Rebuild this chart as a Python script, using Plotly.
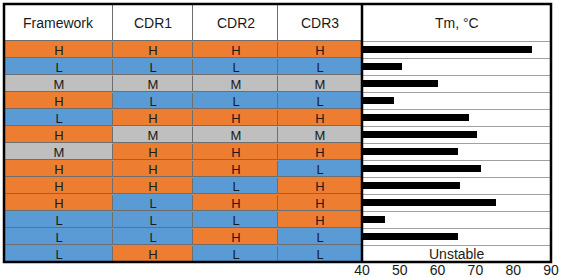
import plotly.graph_objects as go

# ---------------- data ----------------
columns = ["Framework", "CDR1", "CDR2", "CDR3"]
framework = ["H", "L", "M", "H", "L", "H", "M", "H", "H", "H", "L", "L", "L"]
cdr1      = ["H", "L", "M", "L", "H", "M", "H", "H", "H", "L", "L", "L", "H"]
cdr2      = ["H", "L", "M", "L", "H", "M", "H", "H", "L", "H", "L", "H", "L"]
cdr3      = ["H", "L", "M", "L", "H", "M", "H", "L", "H", "H", "H", "L", "L"]
tm_values = [85, 50.5, 60, 48.5, 68.3, 70.5, 65.5, 71.5, 66, 75.4, 46.2, 65.5, None]
tm_header = "Tm, °C"
unstable_label = "Unstable"
x_ticks = [40, 50, 60, 70, 80, 90]

# ---------------- layout constants ----------------
W, H = 562, 278
ML, MR, MT, MB = 4, 11, 4, 16
col_edges = [0, 109, 189, 274, 358]          # table column boundaries (px units)
table_frac = 358 / (W - ML - MR)
header_h = 37 / 17                            # header height in row units
n_rows = len(framework)

level = {"L": 0, "M": 1, "H": 2}
HEADER = 3
rows = list(zip(framework, cdr1, cdr2, cdr3))
z = [[HEADER] * 4] + [[level[v] for v in r] for r in rows]
text = [[""] * 4] + [list(r) for r in rows]
y_edges = [-0.5 - header_h] + [i - 0.5 for i in range(n_rows + 1)]

BLUE, GRAY, ORANGE = "#5B9BD5", "#BFBFBF", "#ED7D31"
cscale = [[0, BLUE], [0.25, BLUE], [0.25, GRAY], [0.5, GRAY],
          [0.5, ORANGE], [0.75, ORANGE], [0.75, "white"], [1, "white"]]

FONT = "Arial, Liberation Sans, sans-serif"

fig = go.Figure()
fig.add_trace(go.Heatmap(
    z=z, x=col_edges, y=y_edges, text=text, texttemplate="%{text}",
    textfont=dict(size=13, color="#1a1a1a", family=FONT),
    colorscale=cscale, zmin=0, zmax=3, showscale=False,
    xgap=1, ygap=1, hoverinfo="skip", xaxis="x", yaxis="y"))

bar_rows = [i for i, v in enumerate(tm_values) if v is not None]
fig.add_trace(go.Bar(
    x=[tm_values[i] for i in bar_rows], y=bar_rows, orientation="h",
    marker=dict(color="black", line=dict(width=0)), width=0.45,
    xaxis="x2", yaxis="y", hoverinfo="skip"))

annotations = []
hy = -0.5 - header_h / 2
for i, c in enumerate(columns):
    annotations.append(dict(x=(col_edges[i] + col_edges[i + 1]) / 2, y=hy,
                            xref="x", yref="y", text=c, showarrow=False,
                            font=dict(size=14, color="#1a1a1a", family=FONT)))
annotations.append(dict(x=65, y=hy, xref="x2", yref="y", text=tm_header,
                        showarrow=False, font=dict(size=14, color="#1a1a1a", family=FONT)))
for i, v in enumerate(tm_values):
    if v is None:
        annotations.append(dict(x=65, y=i, xref="x2", yref="y", text=unstable_label,
                                showarrow=False,
                                font=dict(size=14, color="#1a1a1a", family=FONT)))

shapes = [
    # dark background behind table cells -> cell borders
    dict(type="rect", xref="x", yref="y", x0=col_edges[0], x1=col_edges[-1],
         y0=y_edges[0], y1=y_edges[-1], fillcolor="#6e6e6e", line=dict(width=0),
         layer="below"),
    dict(type="rect", xref="paper", yref="paper", x0=0, x1=1, y0=0, y1=1,
         line=dict(color="black", width=2.5)),
    dict(type="line", xref="paper", yref="paper", x0=table_frac, x1=table_frac,
         y0=0, y1=1, line=dict(color="black", width=2.5)),
]

fig.update_layout(
    width=W, height=H, margin=dict(l=ML, r=MR, t=MT, b=MB, autoexpand=False),
    paper_bgcolor="white", plot_bgcolor="white", showlegend=False,
    font=dict(family=FONT, size=14, color="#1a1a1a"),
    xaxis=dict(domain=[0, table_frac], range=[col_edges[0], col_edges[-1]],
               visible=False, fixedrange=True),
    xaxis2=dict(domain=[table_frac, 1], range=[40, 90], anchor="y",
                tickvals=x_ticks, ticks="", showgrid=False, zeroline=False,
                showline=False, tickfont=dict(size=14, color="#1a1a1a"),
                ticklabelstandoff=-2, fixedrange=True),
    yaxis=dict(range=[n_rows - 0.5, y_edges[0]], tickvals=[i - 0.5 for i in range(n_rows)],
               showticklabels=False, ticks="", showgrid=True, gridcolor="#a0a0a0",
               gridwidth=1, zeroline=False, showline=False, fixedrange=True),
    annotations=annotations, shapes=shapes, bargap=0,
)

fig.write_html("out.html", config={"displayModeBar": False},
               post_script="document.body.style.margin='0px';document.body.style.overflow='hidden';")
